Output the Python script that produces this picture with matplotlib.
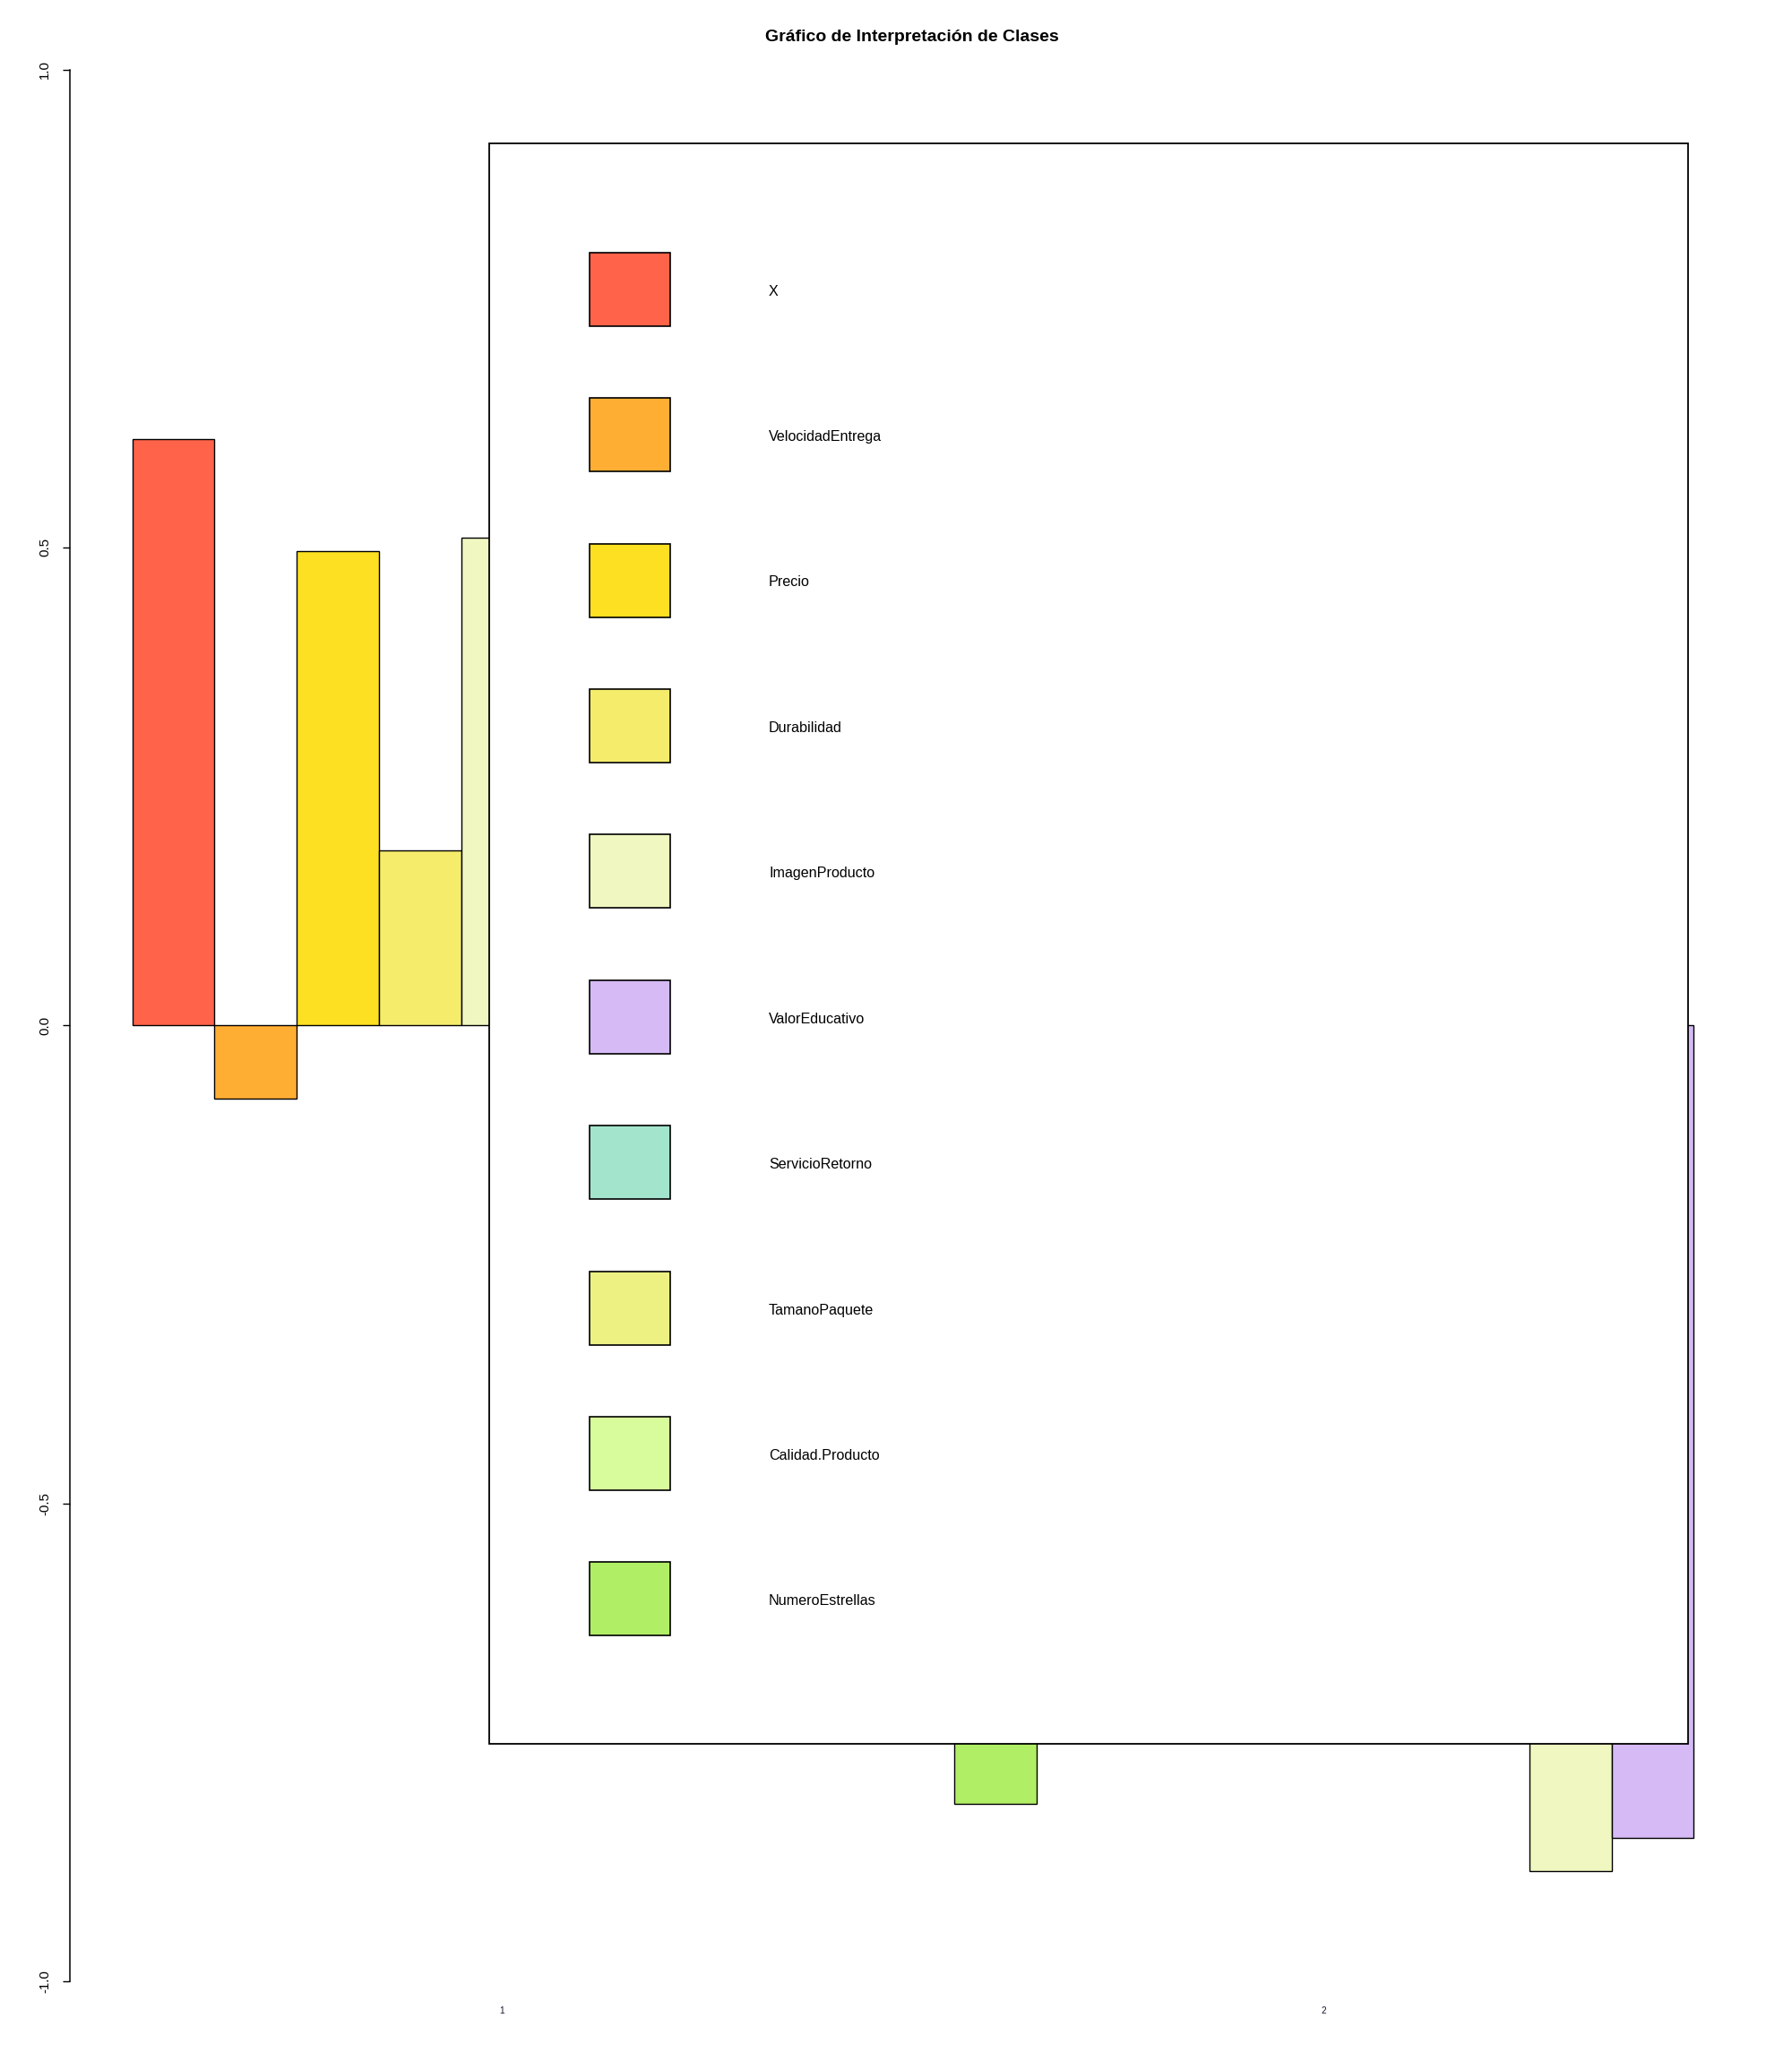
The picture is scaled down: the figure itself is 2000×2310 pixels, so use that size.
import matplotlib
matplotlib.use("Agg")
import matplotlib.pyplot as plt
from matplotlib.patches import Rectangle
import numpy as np

plt.rcParams['font.family'] = ['Liberation Sans', 'DejaVu Sans']

# ---- data ----
title = "Gráfico de Interpretación de Clases"
groups = ["1", "2"]
legend_labels = ["X", "VelocidadEntrega", "Precio", "Durabilidad", "ImagenProducto",
                 "ValorEducativo", "ServicioRetorno", "TamanoPaquete",
                 "Calidad.Producto", "NumeroEstrellas"]
legend_colors = ["#FF6349", "#FFAE34", "#FCE021", "#F5EC6C", "#F0F7C0",
                 "#D5BAF5", "#A3E4CC", "#ECF182", "#D8FC9C", "#B0EE66"]
extra_colors = ["#8DD3C7", "#FFFFB3"]
# values per variable (rows) for class 1 and class 2
class1 = [0.613, -0.077, 0.496, 0.183, 0.510, 0.42, 0.30, 0.58, 0.55]
class2 = [-0.814, 0.10, -0.66, -0.25, -0.68, -0.60, -0.47, -0.885, -0.850]
yticks = [-1.0, -0.5, 0.0, 0.5, 1.0]

# ---- figure ----
W, H = 2000, 2310
fig = plt.figure(figsize=(W / 100, H / 100), dpi=100)
ax = fig.add_axes([78 / W, (H - 2211) / H, 1882 / W, (2211 - 77.5) / H])

nvar = len(class1)
palette = legend_colors + extra_colors
values = np.array([class1, class2])
lefts, heights, cols = [], [], []
k = 0
for g in range(len(groups)):
    for i in range(nvar):
        lefts.append(1 + g * (nvar + 1) + i)
        heights.append(values[g, i])
        cols.append(palette[k % len(palette)])
        k += 1
ax.bar(lefts, heights, width=1.0, align='edge', color=cols,
       edgecolor='black', linewidth=1.0, zorder=1)

ax.set_xlim(1 - 0.04 * 19, 20 + 0.04 * 19)
ax.set_ylim(-1, 1)
for s in ['top', 'right', 'bottom']:
    ax.spines[s].set_visible(False)
ax.spines['left'].set_linewidth(1.1)
ax.set_yticks(yticks)
ax.set_yticklabels([f"{v:.1f}" for v in yticks], rotation=90, va='center',
                   fontsize=10.8)
ax.tick_params(axis='y', length=6, width=1, pad=9)
centers = [1 + g * (nvar + 1) + nvar / 2 for g in range(len(groups))]
ax.set_xticks(centers)
ax.set_xticklabels(groups, fontsize=7.2, color='#1c1030')
ax.tick_params(axis='x', length=0, pad=20)

# ---- overlay in pixel coordinates for title and legend ----
ov = fig.add_axes([0, 0, 1, 1], zorder=5)
ov.set_xlim(0, W)
ov.set_ylim(H, 0)
ov.axis('off')
ov.patch.set_alpha(0)

ov.text(1018, 46.5, title, ha='center', va='baseline', fontsize=14.0,
        fontweight='bold')

ov.add_patch(Rectangle((546, 160), 1884 - 546, 1946 - 160, facecolor='white',
                       edgecolor='black', linewidth=1.3))
for j, (lab, c) in enumerate(zip(legend_labels, legend_colors)):
    cy = 322.7 + 162.4 * j
    ov.add_patch(Rectangle((658, cy - 41), 90, 82, facecolor=c,
                           edgecolor='black', linewidth=1.2))
    ov.text(858, cy + 7, lab, ha='left', va='baseline', fontsize=11.6)

fig.savefig("out.png", dpi=100)
